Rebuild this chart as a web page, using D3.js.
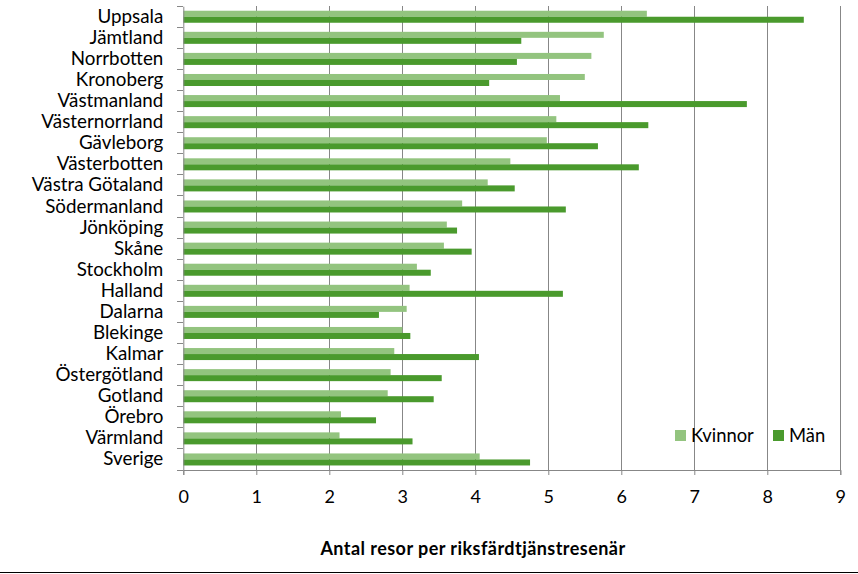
<!DOCTYPE html>
<html><head><meta charset="utf-8">
<script src="https://cdn.jsdelivr.net/npm/d3@7"></script>
<style>
html,body{margin:0;padding:0;background:#fff;}
svg{display:block;font-family:Lato,"Open Sans",sans-serif;}
</style></head>
<body>
<svg id="chart" width="858" height="574"></svg>
<script>
const categories = ["Uppsala","Jämtland","Norrbotten","Kronoberg","Västmanland","Västernorrland","Gävleborg","Västerbotten","Västra Götaland","Södermanland","Jönköping","Skåne","Stockholm","Halland","Dalarna","Blekinge","Kalmar","Östergötland","Gotland","Örebro","Värmland","Sverige"];
const kvinnor = [6.35,5.76,5.59,5.50,5.16,5.11,4.98,4.48,4.17,3.82,3.61,3.57,3.20,3.10,3.06,3.00,2.89,2.84,2.80,2.16,2.14,4.06];
const man = [8.50,4.63,4.57,4.19,7.72,6.37,5.68,6.24,4.54,5.24,3.75,3.95,3.39,5.20,2.68,3.11,4.05,3.54,3.43,2.64,3.14,4.75];
const xTicks = [0,1,2,3,4,5,6,7,8,9];
const seriesNames = ["Kvinnor","Män"];
const colors = ["#93c47f","#4a9a2d"];
const xTitle = "Antal resor per riksfärdtjänstresenär";

const svg = d3.select("#chart");
const mLeft = 183.3, mRight = 840.3, mTop = 6.2, mBottom = 470;
const x = d3.scaleLinear().domain([0,9]).range([mLeft,mRight]);
const y = d3.scaleBand().domain(categories).range([mTop,mBottom]).paddingInner(0.43).paddingOuter(0.215);
const yInner = d3.scaleBand().domain(seriesNames).range([0,y.bandwidth()]);

// gridlines
svg.append("g").selectAll("line").data(xTicks.slice(1)).join("line")
  .attr("x1",d=>x(d)).attr("x2",d=>x(d)).attr("y1",mTop).attr("y2",mBottom)
  .attr("stroke","#878787").attr("stroke-width",1).attr("shape-rendering","crispEdges");

// bars
const rows = svg.append("g").selectAll("g").data(categories).join("g")
  .attr("transform",d=>`translate(0,${y(d)})`);
rows.append("rect").attr("x",x(0)).attr("y",yInner("Kvinnor"))
  .attr("width",(d,i)=>x(kvinnor[i])-x(0)).attr("height",yInner.bandwidth()).attr("fill",colors[0]);
rows.append("rect").attr("x",x(0)).attr("y",yInner("Män"))
  .attr("width",(d,i)=>x(man[i])-x(0)).attr("height",yInner.bandwidth()).attr("fill",colors[1]);

// x axis
const xAxis = svg.append("g").attr("transform",`translate(0,${mBottom})`)
  .call(d3.axisBottom(x).tickValues(xTicks).tickSize(5).tickPadding(15).tickFormat(d3.format("d")));
xAxis.select(".domain").attr("stroke","#878787");
xAxis.selectAll(".tick line").attr("stroke","#878787");
xAxis.selectAll("text").attr("font-size",18).attr("fill","#000").attr("font-family","Lato,sans-serif");

// y axis
const yAxis = svg.append("g").attr("transform",`translate(${mLeft},0)`)
  .call(d3.axisLeft(y).tickSize(0).tickPadding(20));
yAxis.select(".domain").attr("stroke","#878787");
yAxis.selectAll("text").attr("font-size",18.8).attr("fill","#000").attr("font-family","Lato,sans-serif");
// category boundary ticks
const bounds = d3.range(categories.length+1).map(i=>mTop + (mBottom-mTop)*i/categories.length);
svg.append("g").selectAll("line").data(bounds).join("line")
  .attr("x1",mLeft-6).attr("x2",mLeft).attr("y1",d=>d).attr("y2",d=>d)
  .attr("stroke","#878787").attr("shape-rendering","crispEdges");

// axis title
svg.append("text").attr("x",473).attr("y",555).attr("text-anchor","middle")
  .attr("font-size",18).attr("letter-spacing",0.45).attr("font-weight","bold").attr("fill","#000").text(xTitle);

// legend
const leg = svg.append("g").attr("transform","translate(675,430)");
const legX = [0, 98];
seriesNames.forEach((s,i)=>{
  leg.append("rect").attr("x",legX[i]).attr("y",0).attr("width",11).attr("height",11).attr("fill",colors[i]);
  leg.append("text").attr("x",legX[i]+16).attr("y",12).attr("font-size",18.4).attr("fill","#000").text(s);
});

// bottom border line
svg.append("line").attr("x1",0).attr("x2",858).attr("y1",572.5).attr("y2",572.5).attr("stroke","#000").attr("stroke-width",1.2);
</script>
</body></html>
